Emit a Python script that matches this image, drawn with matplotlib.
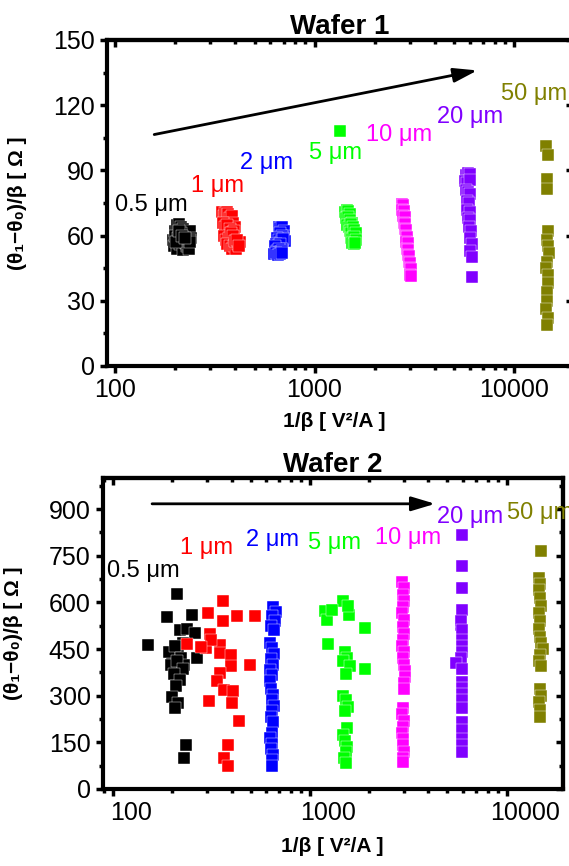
import matplotlib
matplotlib.use('Agg')
import matplotlib.pyplot as plt
import matplotlib.transforms as mtransforms
from matplotlib.ticker import MultipleLocator, LogLocator, NullFormatter

plt.rcParams['font.family'] = ['Liberation Sans', 'DejaVu Sans']

sizes = ['0.5 μm', '1 μm', '2 μm', '5 μm', '10 μm', '20 μm', '50 μm']
colors = ['#000000', '#ff0000', '#0000ff', '#00ff00', '#ff00ff', '#8000ff', '#808000']

# ---- wafer 1 ----
w1_x_05 = [196, 200, 205, 210, 215, 220, 226, 232, 238, 240, 198, 204, 212, 218, 224, 230, 236,
           200, 207, 214, 221, 228, 235, 238, 202, 209, 216, 223]
w1_y_05 = [58, 62, 65, 65.5, 64, 63, 61, 60, 62, 59, 55, 54, 56, 53.5, 57, 55, 58,
           60, 59, 61, 58, 56, 54, 57, 57, 62, 60, 59]
w1_x_1 = [345, 350, 355, 362, 370, 378, 386, 392, 398, 348, 356, 366, 376, 384, 395,
          352, 360, 372, 380, 388, 365, 375, 385, 395, 405, 415, 425, 400, 410, 420]
w1_y_1 = [71, 69, 70.5, 71, 70, 68, 69, 66, 64, 66, 64, 65, 63, 61, 62,
          60, 58, 59, 61, 60, 56, 55, 54, 55, 54, 56, 57, 57.5, 58, 55]
w1_x_2 = [660, 675, 690, 700, 705, 668, 684, 698, 708, 650, 665, 680, 695, 640,
          655, 670, 685, 630, 645, 660, 675, 690, 625, 640, 655, 670, 685]
w1_y_2 = [64, 63.5, 64, 62, 60, 61, 60, 59, 57.5, 59, 58, 57, 58.5, 56,
          55, 56, 54, 55, 53, 54, 52.5, 53, 51.5, 52, 51, 51.5, 52]
w1_x_5 = [1420, 1450, 1480, 1510, 1440, 1470, 1500, 1540, 1460, 1490, 1520, 1560,
          1500, 1530, 1570, 1610, 1520, 1550, 1580, 1610, 1540, 1570, 1600, 1340]
w1_y_5 = [71, 72, 71.5, 70, 68, 68.5, 67, 66, 65, 64, 65.5, 64,
          62, 61, 62.5, 61, 59, 58.5, 59.5, 58, 56.5, 56, 56.5, 108]
w1_x_10 = [2740, 2780, 2760, 2800, 2790, 2830, 2810, 2850, 2840, 2880, 2870, 2900,
           2890, 2930, 2920, 2960, 2950, 2990, 2980, 3020, 3000, 3040, 3020, 3050]
w1_y_10 = [74.5, 74, 72, 71.5, 69, 68.5, 66, 65.5, 63, 62.5, 60, 59.5,
           57, 56.5, 54, 53.5, 51, 50.5, 48, 47.5, 45, 44.5, 42, 41.5]
w1_x_20 = [5750, 5900, 6050, 5700, 5850, 6000, 5750, 5900, 6050, 5800, 5950,
           5850, 6000, 5900, 6050, 5950, 6100, 6000, 6150, 6050, 6150, 6200]
w1_y_20 = [88, 89, 88.5, 85, 84, 85.5, 81, 80, 79, 76, 75,
           72, 71, 68, 67, 64, 62, 59, 56, 53, 50, 41]
w1_x_50 = [14500, 14800, 14600, 14700, 14900, 14600, 14800, 15000, 14700,
           14500, 14800, 14900, 14600, 14700, 14500, 14800, 14700]
w1_y_50 = [101, 97, 86, 81.5, 62, 58, 55, 52, 48, 45, 42, 38, 34, 30, 26, 22, 19]

# ---- wafer 2 ----
w2_x_05 = [151, 189, 212, 219, 253, 237, 261, 226, 214, 200, 192, 206, 222, 267, 230,
           197, 212, 226, 203, 218, 208, 200, 214, 207, 236, 230]
w2_y_05 = [464, 552, 626, 512, 561, 513, 501, 470, 455, 430, 440, 460, 420, 421, 400,
           400, 410, 385, 370, 350, 330, 295, 275, 260, 140, 100]
w2_x_1 = [363, 305, 363, 427, 527, 312, 237, 297, 351, 351, 399, 399, 494, 351,
          337, 367, 408, 400, 307, 439, 383, 367, 383, 316, 280]
w2_y_1 = [603, 567, 539, 555, 555, 497, 465, 453, 464, 437, 432, 394, 400, 373,
          346, 319, 314, 276, 282, 218, 143, 100, 73, 480, 455]
w2_x_2 = [650, 670, 640, 665, 635, 655, 630, 645, 660, 635, 650, 625, 640, 630,
          635, 650, 640, 660, 645, 635, 650, 640, 630, 645, 635, 650, 640, 645]
w2_y_2 = [585, 570, 555, 540, 525, 510, 470, 452, 435, 418, 400, 383, 365, 348,
          320, 303, 286, 268, 250, 232, 215, 180, 163, 146, 128, 110, 93, 75]
w2_x_5 = [1190, 1480, 1580, 1220, 1910, 1240, 1500, 1540, 1470, 1600, 1900, 1520, 1480,
          1530, 1560, 1500, 1540, 1480, 1510, 1550, 1520, 1490, 1530, 1300, 1560]
w2_y_5 = [571, 603, 560, 544, 517, 465, 440, 420, 410, 395, 385, 370, 300,
          285, 265, 250, 195, 175, 155, 135, 120, 100, 85, 575, 590]
w2_x_10 = [2950, 3000, 2970, 3010, 2980, 2950, 2990, 2960, 3000, 2970, 2950, 2990, 2970, 3010,
           3030, 3050, 3020, 3000, 2980, 2950, 2990, 2970, 2950, 2980, 2960, 2990, 2970, 2980]
w2_y_10 = [665, 645, 625, 605, 585, 565, 545, 520, 500, 480, 460, 440, 420, 400,
           380, 360, 340, 322, 262, 240, 220, 200, 180, 160, 140, 120, 100, 88]
w2_x_20 = [5900, 5950, 5920, 5900, 5880, 5850, 5900, 5920, 5950, 5900, 5880, 5500,
           5900, 5950, 5920, 5900, 5950, 5920, 5900, 5950, 5900, 5920, 5940]
w2_y_20 = [817, 716, 646, 576, 528, 540, 510, 480, 460, 440, 420, 405,
           385, 345, 325, 305, 285, 262, 215, 190, 160, 140, 120]
w2_x_50 = [15000, 14600, 14800, 14500, 14700, 14900, 14600, 14800, 14500, 14700,
           14900, 15200, 14800, 14600, 14900, 14700, 14900, 14600, 14800, 14700]
w2_y_50 = [764, 680, 660, 640, 615, 590, 565, 540, 515, 490,
           470, 450, 430, 410, 395, 320, 300, 280, 255, 232]

w1_x = [w1_x_05, w1_x_1, w1_x_2, w1_x_5, w1_x_10, w1_x_20, w1_x_50]
w1_y = [w1_y_05, w1_y_1, w1_y_2, w1_y_5, w1_y_10, w1_y_20, w1_y_50]
w2_x = [w2_x_05, w2_x_1, w2_x_2, w2_x_5, w2_x_10, w2_x_20, w2_x_50]
w2_y = [w2_y_05, w2_y_1, w2_y_2, w2_y_5, w2_y_10, w2_y_20, w2_y_50]

fig = plt.figure(figsize=(5.69, 8.66), dpi=100)
ax1 = fig.add_axes([107/569, 1 - 366/866, 466/569, 326/866])
ax2 = fig.add_axes([103/569, 1 - 789/866, 460/569, 311/866])


def style_axes(ax, xlim, ymax, ystep):
    ax.set_xscale('log')
    ax.set_xlim(*xlim)
    ax.set_xticks([100, 1000, 10000], ['100', '1000', '10000'])
    ax.xaxis.set_minor_locator(LogLocator(subs=range(2, 10)))
    ax.xaxis.set_minor_formatter(NullFormatter())
    ax.set_yticks(range(0, ymax + 1, ystep))
    ax.yaxis.set_minor_locator(MultipleLocator(ystep / 2))
    ax.set_ylim(0, ymax)
    ax.tick_params(which='both', direction='out', width=2.5, labelsize=18, pad=4)
    ax.tick_params(which='major', length=5)
    ax.tick_params(which='minor', length=3)
    for s in ax.spines.values():
        s.set_linewidth(3)

    # inward ticks on the mirrored sides
    top = ax.secondary_xaxis('top')
    top.set_xticks([100, 1000, 10000])
    top.xaxis.set_minor_locator(LogLocator(subs=range(2, 10)))
    top.xaxis.set_minor_formatter(NullFormatter())
    top.tick_params(which='both', direction='in', width=2.5, labeltop=False)
    top.tick_params(which='major', length=5)
    top.tick_params(which='minor', length=3)
    top.spines['top'].set_linewidth(3)

    right = ax.secondary_yaxis('right')
    right.set_yticks(range(0, ymax + 1, ystep))
    right.yaxis.set_minor_locator(MultipleLocator(ystep / 2))
    right.tick_params(which='both', direction='in', width=2.5, labelright=False)
    right.tick_params(which='major', length=5)
    right.tick_params(which='minor', length=3)
    right.spines['right'].set_linewidth(3)

    ax.set_xlabel('1/β [ V²/A ]', fontsize=15, fontweight='bold')
    ax.set_ylabel('(θ₁−θ₀)/β [ Ω ]', fontsize=15, fontweight='bold')


style_axes(ax1, (91, 19800), 150, 30)
style_axes(ax2, (89, 19300), 1000, 150)
ax2.set_yticks(range(0, 901, 150))

for xs, ys, c in zip(w1_x, w1_y, colors):
    ax1.scatter(xs, ys, marker='s', s=85, c=c, edgecolors='white', linewidths=0.3, zorder=3)
for xs, ys, c in zip(w2_x, w2_y, colors):
    ax2.scatter(xs, ys, marker='s', s=85, c=c, edgecolors='white', linewidths=0.3, zorder=3)

# size labels
w1_pos = [(100, 74), (239, 83), (423, 93.5), (942, 98), (1811, 106.5), (4120, 114.5), (8630, 125)]
w2_pos = [(93, 700), (219, 775), (473, 801), (984, 791), (2130, 807), (4430, 876), (10000, 887)]
for (x, y), lab, c in zip(w1_pos, sizes, colors):
    ax1.text(x, y, lab, color=c, fontsize=17, ha='left', va='center')
for (x, y), lab, c in zip(w2_pos, sizes, colors):
    ax2.text(x, y, lab, color=c, fontsize=17, ha='left', va='center', clip_on=False)

arrow = dict(arrowstyle='-|>,head_length=1.2,head_width=0.36', color='black', lw=2,
             mutation_scale=12, shrinkA=0, shrinkB=0)
ax1.annotate('', xy=(6560, 136), xytext=(157, 106.5), arrowprops=arrow)
ax2.annotate('', xy=(4330, 917), xytext=(158, 917), arrowprops=arrow)

ax1.set_title('Wafer 1', fontsize=20, fontweight='bold', pad=3)
ax2.set_title('Wafer 2', fontsize=20, fontweight='bold', pad=3)

ax1.xaxis.set_label_coords(0.487, -0.14)
ax2.xaxis.set_label_coords(0.498, -0.155)
ax1.yaxis.set_label_coords(-0.172, 0.5)
ax2.yaxis.set_label_coords(-0.174, 0.5)

# bottom panel tick labels sit a little right of their ticks
shift = mtransforms.ScaledTranslation(0.18, 0, fig.dpi_scale_trans)
for lab in ax2.get_xticklabels():
    lab.set_transform(lab.get_transform() + shift)

fig.savefig('out.png', dpi=100)
